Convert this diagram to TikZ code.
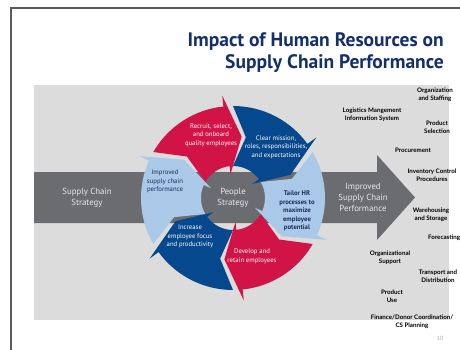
\documentclass[tikz,border=0pt]{standalone}
\usepackage{fontspec}
\setmainfont{PT Sans}
\newfontfamily\labelfont{Lato}
\usetikzlibrary{calc}
\definecolor{framec}{HTML}{5A5A5A}
\definecolor{titlec}{HTML}{14306B}
\definecolor{panelc}{HTML}{DCDCDC}
\definecolor{bandc}{HTML}{6B6C6F}
\definecolor{redc}{HTML}{D21345}
\definecolor{bluec}{HTML}{06488D}
\definecolor{lbc}{HTML}{AAC8E8}
\definecolor{navyc}{HTML}{1B2E5C}
\definecolor{bandtext}{HTML}{E8E8E8}
\tikzset{
  titletext/.style={font=\fontsize{19.5}{23}\selectfont\bfseries, text=titlec, inner sep=0pt},
  cyctext/.style={font=\fontsize{6.7}{8.5}\selectfont, align=center, inner sep=0pt},
  bandlabel/.style={font=\fontsize{8.8}{11}\selectfont, text=bandtext, align=center, inner sep=0pt},
  sidelabel/.style={font=\labelfont\fontsize{6.2}{7.6}\selectfont\bfseries, text=black, align=center, inner sep=0pt},
}
\begin{document}
\begin{tikzpicture}[x=1pt,y=-1pt]
\useasboundingbox (0,0) rectangle (460,350);
\fill[white] (0,0) rectangle (460,350);
% slide frame
\draw[framec, line width=1.5pt] (11,350) -- (11,8) -- (462,8);
% title
\node[titletext, anchor=base east] (t1) at (444,46.5) {Impact of Human Resources on};
\node[titletext, anchor=base east] (t2) at (444,68.5) {Supply Chain Performance};
% panel
\fill[panelc] (34,85) rectangle (449,320);
% band arrow
\coordinate (b1) at (34,172);
\coordinate (b2) at (377,172);
\coordinate (b3) at (377,155);
\coordinate (b4) at (415,197.5);
\coordinate (b5) at (377,240);
\coordinate (b6) at (377,223);
\coordinate (b7) at (34,223);
\fill[bandc] (b1) -- (b2) -- (b3) -- (b4) -- (b5) -- (b6) -- (b7) -- cycle;
% cycle arrows
\begin{scope}[shift={(233,198)}, x=1pt, y=1pt]
\def\ro{92}\def\ri{32}\def\rmid{62}
\foreach \A/\col in {150/redc, 90/bluec, 30/lbc, -30/redc, -90/bluec, -150/lbc}{
  \fill[\col] ({\A}:{\ro}) arc[start angle={\A}, end angle={\A-54}, radius=\ro]
    -- ({\A-54}:{\ro+11}) -- ({\A-68}:{\rmid}) -- ({\A-54}:{\ri-8})
    -- ({\A-54}:{\ri}) arc[start angle={\A-54}, end angle={\A}, radius=\ri]
    -- ({\A-12}:{\rmid}) -- cycle;
}
\end{scope}
% band labels
\node[bandlabel] (sc) at (87,197.5) {Supply Chain\\Strategy};
\node[bandlabel] (ps) at (233,197.5) {People\\Strategy};
\node[bandlabel] (isc) at (363,197) {Improved\\Supply Chain\\Performance};
% cycle labels
\node[cyctext, text=white] (c1) at (211,135) {Recruit, select,\\and onboard\\quality employees};
\node[cyctext, text=white] (c2) at (276,147) {Clear mission,\\roles, responsibilities,\\and expectations};
\node[cyctext, text=navyc, font=\fontsize{6.7}{8.5}\selectfont\bfseries] (c3) at (297,211) {Tailor HR\\processes to\\maximize\\employee\\potential};
\node[cyctext, text=white] (c4) at (252,256.5) {Develop and\\retain employees};
\node[cyctext, text=white] (c5) at (190,236.5) {Increase\\employee focus\\and productivity};
\node[cyctext, text=navyc] (c6) at (165,181.5) {Improved\\supply chain\\performance};
% side labels
\node[sidelabel] (s1) at (435,95) {Organization\\and Staffing};
\node[sidelabel] (s2) at (372,114.5) {Logistics Mangement\\Information System};
\node[sidelabel] (s3) at (437,127) {Product\\Selection};
\node[sidelabel] (s4) at (413,150) {Procurement};
\node[sidelabel] (s5) at (432,175.5) {Inventory Control\\Procedures};
\node[sidelabel] (s6) at (431,215) {Warehousing\\and Storage};
\node[sidelabel, anchor=west] (s7) at (428,238) {Forecasting};
\node[sidelabel] (s8) at (390,257.5) {Organizational\\Support};
\node[sidelabel] (s9) at (438,276.5) {Transport and\\Distribution};
\node[sidelabel] (s10) at (392,296) {Product\\Use};
\node[sidelabel] (s11) at (412,322) {Finance/Donor Coordination/\\CS Planning};
\node[font=\fontsize{6}{7}\selectfont, text=black!35, inner sep=0pt] (pg) at (440,338) {10};
\end{tikzpicture}
\end{document}
